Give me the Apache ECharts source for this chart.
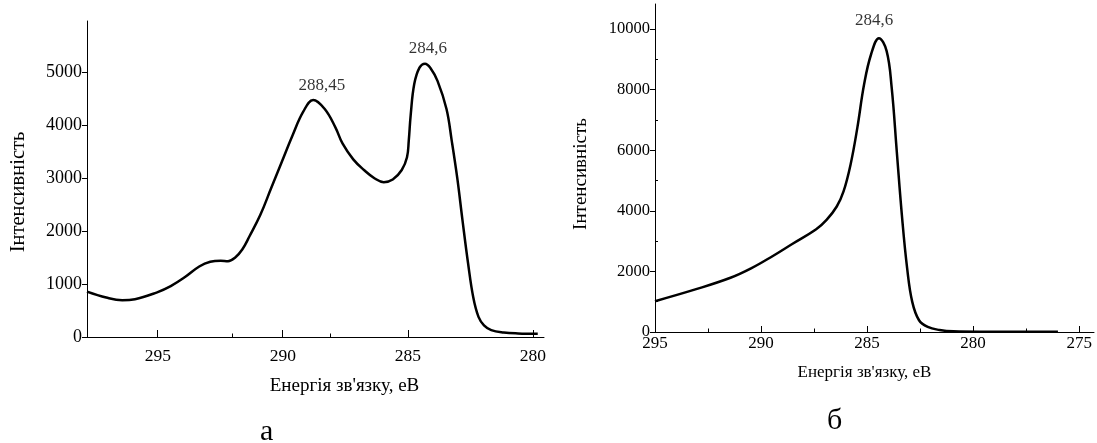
<!DOCTYPE html>
<html>
<head>
<meta charset="utf-8">
<script src="https://cdn.jsdelivr.net/npm/echarts@6/dist/echarts.min.js"></script>
<style>
  html, body { margin: 0; padding: 0; background: #fff; }
  #chart { width: 1097px; height: 443px; }
</style>
</head>
<body>
<div id="chart"></div>
<script>
// спектр а
const leftEnergy = [297.83, 297.06, 296.42, 295.91, 295.05, 294.48, 293.91, 293.34, 292.90, 292.48,
  292.19, 291.90, 291.62, 291.33, 290.90, 290.47, 290.04, 289.61, 289.18, 288.78,
  288.32, 287.89, 287.61, 287.18, 286.75, 286.32, 285.96, 285.60, 285.24, 285.03,
  284.96, 284.88, 284.74, 284.53, 284.31, 284.10, 283.81, 283.45, 283.24, 283.02,
  282.81, 282.59, 282.38, 282.17, 281.95, 281.66, 281.16, 280.59, 279.80]
const leftIntensity = [857, 745, 695, 713, 838, 960, 1130, 1330, 1420, 1440,
  1430, 1500, 1650, 1900, 2300, 2800, 3300, 3800, 4250, 4470,
  4300, 3950, 3650, 3350, 3150, 2990, 2920, 2970, 3150, 3390,
  3700, 4200, 4770, 5080, 5156, 5080, 4830, 4300, 3700, 3000,
  2200, 1400, 750, 380, 220, 130, 85, 68, 62]
const leftPeakEnergy = [288.44, 284.2]
const leftPeakIntensity = [4742, 5447]
const leftPeakLabels = ['288,45', '284,6']

// спектр б
const rightEnergy = [295.0, 293.06, 291.44, 290.47, 289.50, 288.53, 287.40, 286.91, 286.43, 286.11,
  285.78, 285.46, 285.14, 284.81, 284.44, 284.08, 283.84, 283.60, 283.36, 283.11,
  282.87, 282.55, 282.14, 281.58, 280.93, 279.31, 276.0]
const rightIntensity = [1017, 1414, 1790, 2100, 2486, 2906, 3392, 3702, 4144, 4641,
  5525, 6740, 8177, 9171, 9702, 9282, 8066, 5967, 3867, 2099,
  994, 387, 166, 66, 22, 10, 5]
const rightPeakEnergy = [284.67]
const rightPeakIntensity = [10297]
const rightPeakLabels = ['284,6']

// ticks
const leftXTicks = [280, 285, 290, 295]
const leftXMinorTicks = [292, 288.1]
const leftYTicks = [0, 1000, 2000, 3000, 4000, 5000]
const rightXTicks = [275, 280, 285, 290, 295]
const rightXMinorTicks = [277.5, 282.5, 287.5, 292.5]
const rightYTicks = [0, 2000, 4000, 6000, 8000, 10000]
const rightYMinorTicks = [1000, 3000, 5000, 7000, 9000]

const font = '"Liberation Serif", "Times New Roman", serif'
const black = '#000'

const pairs = (xs, ys) => xs.map((x, i) => [x, ys[i]])
const plain = (v) => String(v)

const chart = echarts.init(document.getElementById('chart'), null, { renderer: 'canvas' })

const mainX = (grid, min, max, ticks, name, opts) => ({
  type: 'value',
  gridIndex: grid,
  position: 'bottom',
  min: min,
  max: max,
  inverse: true,
  name: name,
  nameLocation: 'middle',
  nameGap: opts.nameGap,
  nameTextStyle: { fontFamily: font, fontSize: opts.nameSize, color: black, padding: opts.namePad },
  axisLine: { show: true, onZero: false, lineStyle: { color: black, width: 1 } },
  axisTick: { show: true, inside: true, length: opts.tickLen, customValues: ticks, lineStyle: { color: black } },
  axisLabel: { customValues: ticks, formatter: plain, fontFamily: font, fontSize: opts.labelSize, color: black, margin: opts.labelMargin },
  splitLine: { show: false }
})

const minorX = (grid, min, max, ticks) => ({
  type: 'value',
  gridIndex: grid,
  position: 'bottom',
  min: min,
  max: max,
  inverse: true,
  axisLine: { show: false, onZero: false },
  axisTick: { show: true, inside: true, length: 3.5, customValues: ticks, lineStyle: { color: black } },
  axisLabel: { show: false },
  splitLine: { show: false }
})

const option = {
  backgroundColor: '#fff',
  animation: false,
  textStyle: { fontFamily: font, color: black },
  title: [
    { text: 'а', left: 260, top: 417, padding: 0,
      textStyle: { fontFamily: font, fontSize: 30, lineHeight: 30, fontWeight: 'normal', color: black } },
    { text: 'б', left: 827, top: 406, padding: 0,
      textStyle: { fontFamily: font, fontSize: 30, lineHeight: 30, fontWeight: 'normal', color: black } }
  ],
  grid: [
    { left: 87, top: 21, width: 457, height: 316 },
    { left: 655, top: 4, width: 439, height: 328 }
  ],
  xAxis: [
    mainX(0, 279.55, 297.83, leftXTicks, 'Енергія зв\'язку, еВ',
      { nameGap: 40, nameSize: 19, namePad: [0, 0, 0, 58], tickLen: 7, labelSize: 17.5, labelMargin: 10 }),
    minorX(0, 279.55, 297.83, leftXMinorTicks),
    mainX(1, 274.3, 295, rightXTicks, 'Енергія зв\'язку, еВ',
      { nameGap: 32, nameSize: 17, namePad: [0, 20, 0, 0], tickLen: 6, labelSize: 17, labelMargin: 3 }),
    minorX(1, 274.3, 295, rightXMinorTicks)
  ],
  yAxis: [
    {
      type: 'value',
      gridIndex: 0,
      position: 'left',
      min: 0,
      max: 5960,
      name: 'Інтенсивність',
      nameLocation: 'middle',
      nameGap: 58,
      nameTextStyle: { fontFamily: font, fontSize: 20.5, color: black, padding: [0, 26, 0, 0] },
      axisLine: { show: true, onZero: false, lineStyle: { color: black, width: 1 } },
      axisTick: { show: true, length: 5, customValues: leftYTicks, lineStyle: { color: black } },
      axisLabel: { customValues: leftYTicks, formatter: plain, fontFamily: font, fontSize: 18, color: black, margin: 5 },
      splitLine: { show: false }
    },
    {
      type: 'value',
      gridIndex: 1,
      position: 'left',
      min: 0,
      max: 10830,
      name: 'Інтенсивність',
      nameLocation: 'middle',
      nameGap: 64,
      nameTextStyle: { fontFamily: font, fontSize: 19, color: black, padding: [0, 12, 0, 0] },
      axisLine: { show: true, onZero: false, lineStyle: { color: black, width: 1 } },
      axisTick: { show: true, length: 5, customValues: rightYTicks, lineStyle: { color: black } },
      axisLabel: { customValues: rightYTicks, formatter: plain, fontFamily: font, fontSize: 16.5, color: black, margin: 5 },
      splitLine: { show: false }
    },
    {
      type: 'value',
      gridIndex: 1,
      position: 'left',
      min: 0,
      max: 10830,
      axisLine: { show: false, onZero: false },
      axisTick: { show: true, inside: true, length: 3, customValues: rightYMinorTicks, lineStyle: { color: black } },
      axisLabel: { show: false },
      splitLine: { show: false }
    }
  ],
  series: [
    {
      name: 'а',
      type: 'line',
      xAxisIndex: 0,
      yAxisIndex: 0,
      data: pairs(leftEnergy, leftIntensity),
      smooth: 0.4,
      showSymbol: false,
      silent: true,
      lineStyle: { color: black, width: 2.5 }
    },
    {
      name: 'б',
      type: 'line',
      xAxisIndex: 2,
      yAxisIndex: 1,
      data: pairs(rightEnergy, rightIntensity),
      smooth: 0.4,
      showSymbol: false,
      silent: true,
      lineStyle: { color: black, width: 2.5 }
    },
    {
      type: 'scatter',
      xAxisIndex: 0,
      yAxisIndex: 0,
      data: pairs(leftPeakEnergy, leftPeakIntensity),
      symbolSize: 1,
      itemStyle: { color: 'transparent' },
      silent: true,
      label: {
        show: true,
        position: 'inside',
        fontFamily: font,
        fontSize: 17,
        color: black,
        formatter: (p) => leftPeakLabels[p.dataIndex]
      }
    },
    {
      type: 'scatter',
      xAxisIndex: 2,
      yAxisIndex: 1,
      data: pairs(rightPeakEnergy, rightPeakIntensity),
      symbolSize: 1,
      itemStyle: { color: 'transparent' },
      silent: true,
      label: {
        show: true,
        position: 'inside',
        fontFamily: font,
        fontSize: 17,
        color: black,
        formatter: (p) => rightPeakLabels[p.dataIndex]
      }
    }
  ]
}

chart.setOption(option)
</script>
</body>
</html>
